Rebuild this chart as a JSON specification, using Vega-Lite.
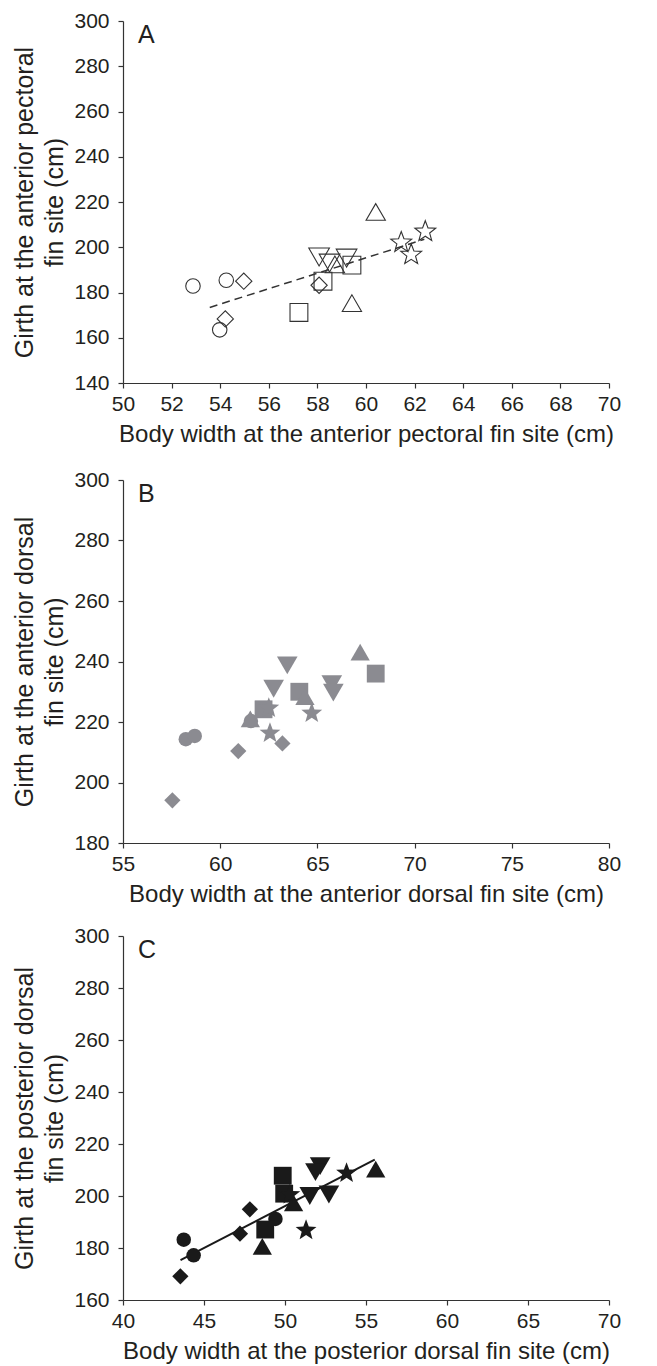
{
  "$schema": "https://vega.github.io/schema/vega-lite/v6.json",
  "padding": {"left": 12, "top": 10, "right": 10, "bottom": 2},
  "spacing": 23,
  "config": {
    "font": "Liberation Sans",
    "view": {"stroke": null},
    "axis": {
      "grid": false,
      "labelFont": "Liberation Sans",
      "titleFont": "Liberation Sans",
      "labelFontSize": 21,
      "titleFontSize": 24,
      "titleFontWeight": "normal",
      "labelColor": "#231f20",
      "titleColor": "#231f20",
      "domainColor": "#333333",
      "tickColor": "#333333",
      "domainWidth": 1.2,
      "tickWidth": 1.2,
      "tickSize": 5,
      "titleLineHeight": 30,
      "labelFlush": false,
      "labelOverlap": false
    },
    "axisX": {"labelPadding": 5, "titlePadding": 8},
    "axisY": {"labelPadding": 9, "titlePadding": 6, "titleFontSize": 25}
  },
  "datasets": {
    "a": [
      {"fish": "1", "w": 52.88, "g": 182.9}, {"fish": "1", "w": 54.25, "g": 185.4}, {"fish": "1", "w": 53.98, "g": 163.5},
      {"fish": "2", "w": 54.97, "g": 185.0}, {"fish": "2", "w": 54.21, "g": 168.3}, {"fish": "2", "w": 58.07, "g": 183.2},
      {"fish": "3", "w": 57.24, "g": 171.2}, {"fish": "3", "w": 58.23, "g": 185.0}, {"fish": "3", "w": 59.42, "g": 192.1},
      {"fish": "4", "w": 60.4, "g": 215.6}, {"fish": "4", "w": 59.42, "g": 175.3}, {"fish": "4", "w": 58.72, "g": 192.4},
      {"fish": "5", "w": 58.07, "g": 195.7}, {"fish": "5", "w": 58.5, "g": 193.0}, {"fish": "5", "w": 59.2, "g": 195.2},
      {"fish": "6", "w": 61.45, "g": 202.1}, {"fish": "6", "w": 61.86, "g": 196.7}, {"fish": "6", "w": 62.44, "g": 206.9}
    ],
    "b": [
      {"fish": "1", "w": 58.23, "g": 214.3}, {"fish": "1", "w": 58.69, "g": 215.4}, {"fish": "1", "w": 61.58, "g": 220.3},
      {"fish": "2", "w": 57.54, "g": 194.1}, {"fish": "2", "w": 60.93, "g": 210.4}, {"fish": "2", "w": 63.2, "g": 212.9},
      {"fish": "3", "w": 62.23, "g": 224.2}, {"fish": "3", "w": 64.07, "g": 230.0}, {"fish": "3", "w": 68.0, "g": 236.0},
      {"fish": "4", "w": 67.2, "g": 243.1}, {"fish": "4", "w": 64.36, "g": 228.4}, {"fish": "4", "w": 61.55, "g": 221.0},
      {"fish": "5", "w": 63.45, "g": 238.7}, {"fish": "5", "w": 62.75, "g": 231.0}, {"fish": "5", "w": 65.74, "g": 232.5}, {"fish": "5", "w": 65.82, "g": 229.7},
      {"fish": "6", "w": 62.56, "g": 216.3}, {"fish": "6", "w": 64.71, "g": 222.9}, {"fish": "6", "w": 62.5, "g": 224.6}
    ],
    "c": [
      {"fish": "1", "w": 43.75, "g": 183.2}, {"fish": "1", "w": 44.36, "g": 177.2}, {"fish": "1", "w": 49.41, "g": 191.2},
      {"fish": "2", "w": 43.54, "g": 169.1}, {"fish": "2", "w": 47.22, "g": 185.5}, {"fish": "2", "w": 47.83, "g": 194.9},
      {"fish": "3", "w": 49.86, "g": 207.8}, {"fish": "3", "w": 49.95, "g": 200.9}, {"fish": "3", "w": 48.78, "g": 187.1},
      {"fish": "4", "w": 48.6, "g": 180.6}, {"fish": "4", "w": 50.53, "g": 197.3}, {"fish": "4", "w": 55.6, "g": 210.3},
      {"fish": "5", "w": 52.17, "g": 211.5}, {"fish": "5", "w": 51.88, "g": 209.2}, {"fish": "5", "w": 51.53, "g": 200.0}, {"fish": "5", "w": 52.71, "g": 200.6},
      {"fish": "6", "w": 53.8, "g": 208.8}, {"fish": "6", "w": 51.3, "g": 186.8}, {"fish": "6", "w": 50.3, "g": 200.5}
    ],
    "fitA": [{"w": 53.57, "g": 173.4}, {"w": 62.4, "g": 203.5}],
    "fitC": [{"w": 43.55, "g": 175.3}, {"w": 55.54, "g": 214.0}],
    "panelA": [{"label": "A"}],
    "panelB": [{"label": "B"}],
    "panelC": [{"label": "C"}]
  },
  "vconcat": [
    {
      "width": 486, "height": 362,
      "layer": [
        {
          "data": {"name": "fitA"},
          "mark": {"type": "line", "color": "#333333", "strokeWidth": 1.5, "strokeDash": [8, 5]},
          "encoding": {
            "x": {"field": "w", "type": "quantitative", "scale": {"domain": [50, 70], "nice": false}},
            "y": {"field": "g", "type": "quantitative", "scale": {"domain": [140, 300], "nice": false}}
          }
        },
        {
          "data": {"name": "a"},
          "mark": {"type": "point", "filled": false, "color": "#333333", "strokeWidth": 1.1, "opacity": 1},
          "encoding": {
            "x": {"field": "w", "type": "quantitative", "scale": {"domain": [50, 70], "nice": false}, "axis": {"values": [50, 52, 54, 56, 58, 60, 62, 64, 66, 68, 70], "title": "Body width at the anterior pectoral fin site (cm)"}},
            "y": {"field": "g", "type": "quantitative", "scale": {"domain": [140, 300], "nice": false}, "axis": {"values": [140, 160, 180, 200, 220, 240, 260, 280, 300], "title": ["Girth at the anterior pectoral", "fin site (cm)"]}},
            "shape": {"field": "fish", "type": "nominal", "legend": null, "scale": {"domain": ["1", "2", "3", "4", "5", "6"], "range": ["circle", "diamond", "square", "triangle-up", "triangle-down", "M0,-1L0.247,-0.34L0.951,-0.309L0.399,0.13L0.588,0.809L0,0.42L-0.588,0.809L-0.399,0.13L-0.951,-0.309L-0.247,-0.34Z"]}},
            "size": {"field": "fish", "type": "nominal", "legend": null, "scale": {"domain": ["1", "2", "3", "4", "5", "6"], "range": [210, 480, 190, 260, 260, 270]}}
          }
        },
        {
          "data": {"name": "panelA"},
          "mark": {"type": "text", "align": "left", "baseline": "alphabetic", "fontSize": 25, "font": "Liberation Sans", "color": "#231f20"},
          "encoding": {"text": {"field": "label"}, "x": {"datum": 50.62}, "y": {"datum": 290.3}}
        }
      ]
    },
    {
      "spacing": 19,
      "vconcat": [
        {
          "width": 486, "height": 363,
          "layer": [
            {
              "data": {"name": "b"},
              "mark": {"type": "point", "filled": true, "color": "#8b8b91", "opacity": 1},
              "encoding": {
                "x": {"field": "w", "type": "quantitative", "scale": {"domain": [55, 80], "nice": false}, "axis": {"values": [55, 60, 65, 70, 75, 80], "title": "Body width at the anterior dorsal fin site (cm)"}},
                "y": {"field": "g", "type": "quantitative", "scale": {"domain": [180, 300], "nice": false}, "axis": {"values": [180, 200, 220, 240, 260, 280, 300], "title": ["Girth at the anterior dorsal", "fin site (cm)"]}},
                "shape": {"field": "fish", "type": "nominal", "legend": null, "scale": {"domain": ["1", "2", "3", "4", "5", "6"], "range": ["circle", "diamond", "square", "triangle-up", "triangle-down", "M0,-1L0.247,-0.34L0.951,-0.309L0.399,0.13L0.588,0.809L0,0.42L-0.588,0.809L-0.399,0.13L-0.951,-0.309L-0.247,-0.34Z"]}},
                "size": {"field": "fish", "type": "nominal", "legend": null, "scale": {"domain": ["1", "2", "3", "4", "5", "6"], "range": [250, 580, 210, 290, 290, 300]}}
              }
            },
            {
              "data": {"name": "panelB"},
              "mark": {"type": "text", "align": "left", "baseline": "alphabetic", "fontSize": 25, "font": "Liberation Sans", "color": "#231f20"},
              "encoding": {"text": {"field": "label"}, "x": {"datum": 55.77}, "y": {"datum": 292.7}}
            }
          ]
        },
        {
          "width": 486, "height": 364,
          "layer": [
            {
              "data": {"name": "fitC"},
              "mark": {"type": "line", "color": "#1a1a1a", "strokeWidth": 2},
              "encoding": {
                "x": {"field": "w", "type": "quantitative", "scale": {"domain": [40, 70], "nice": false}},
                "y": {"field": "g", "type": "quantitative", "scale": {"domain": [160, 300], "nice": false}}
              }
            },
            {
              "data": {"name": "c"},
              "mark": {"type": "point", "filled": true, "color": "#1a1a1a", "opacity": 1},
              "encoding": {
                "x": {"field": "w", "type": "quantitative", "scale": {"domain": [40, 70], "nice": false}, "axis": {"values": [40, 45, 50, 55, 60, 65, 70], "title": "Body width at the posterior dorsal fin site (cm)"}},
                "y": {"field": "g", "type": "quantitative", "scale": {"domain": [160, 300], "nice": false}, "axis": {"values": [160, 180, 200, 220, 240, 260, 280, 300], "title": ["Girth at the posterior dorsal", "fin site (cm)"]}},
                "shape": {"field": "fish", "type": "nominal", "legend": null, "scale": {"domain": ["1", "2", "3", "4", "5", "6"], "range": ["circle", "diamond", "square", "triangle-up", "triangle-down", "M0,-1L0.247,-0.34L0.951,-0.309L0.399,0.13L0.588,0.809L0,0.42L-0.588,0.809L-0.399,0.13L-0.951,-0.309L-0.247,-0.34Z"]}},
                "size": {"field": "fish", "type": "nominal", "legend": null, "scale": {"domain": ["1", "2", "3", "4", "5", "6"], "range": [240, 600, 210, 300, 300, 310]}}
              }
            },
            {
              "data": {"name": "panelC"},
              "mark": {"type": "text", "align": "left", "baseline": "alphabetic", "fontSize": 25, "font": "Liberation Sans", "color": "#231f20"},
              "encoding": {"text": {"field": "label"}, "x": {"datum": 40.93}, "y": {"datum": 291.5}}
            }
          ]
        }
      ]
    }
  ]
}
